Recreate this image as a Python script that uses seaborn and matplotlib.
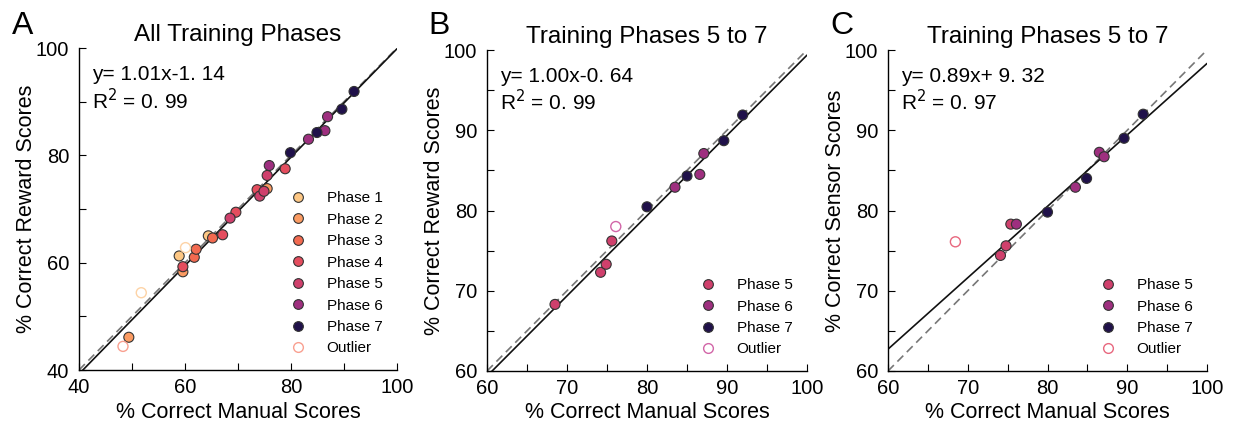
import matplotlib
matplotlib.use("Agg")
import matplotlib.pyplot as plt
import seaborn as sns
import pandas as pd
import numpy as np
from matplotlib.lines import Line2D
from matplotlib.ticker import MultipleLocator

sns.set_theme(style="white")
plt.rcParams['font.family'] = ['Liberation Sans', 'DejaVu Sans']
plt.rcParams['text.color'] = 'black'
plt.rcParams['axes.labelcolor'] = 'black'
plt.rcParams['xtick.color'] = 'black'
plt.rcParams['ytick.color'] = 'black'

# ---------------- data ----------------
phase_names = ["Phase 1", "Phase 2", "Phase 3", "Phase 4", "Phase 5", "Phase 6", "Phase 7"]
phase_colors = ["#fdc784", "#fb9b62", "#f26a50", "#e44d5e", "#cf406c", "#9e2f7f", "#20114a"]

# Panel A: all training phases (manual vs reward)
a_phase = ["Phase 1"] * 2 + ["Phase 2"] * 3 + ["Phase 3"] * 3 + ["Phase 4"] * 5 + ["Phase 5"] * 4 + ["Phase 6"] * 4 + ["Phase 7"] * 4
a_manual = [58.9, 64.4,
            49.4, 59.6, 75.5,
            61.75, 62.1, 65.2,
            59.6, 67.1, 69.6, 73.6, 78.9,
            68.5, 74.1, 74.9, 75.5,
            75.9, 83.3, 86.4, 86.9,
            79.9, 84.9, 89.6, 91.9]
a_reward = [61.25, 65.0,
            46.1, 58.3, 73.8,
            61.0, 62.5, 64.6,
            59.25, 65.2, 69.4, 73.6, 77.5,
            68.3, 72.4, 73.3, 76.25,
            78.1, 83.0, 84.6, 87.2,
            80.5, 84.25, 88.6, 91.9]
a_out_manual = [51.75, 48.3, 60.1]
a_out_reward = [54.4, 44.4, 62.8]
a_out_colors = ["#fdd3a6", "#f9a090", "#fdd3a6"]

# Panel B: phases 5 to 7 (manual vs reward)
b_phase = ["Phase 5"] * 4 + ["Phase 6"] * 3 + ["Phase 7"] * 4
b_manual = [68.5, 74.2, 74.9, 75.6, 83.5, 86.6, 87.1, 80.0, 85.0, 89.6, 91.96]
b_reward = [68.3, 72.3, 73.3, 76.2, 82.9, 84.5, 87.1, 80.46, 84.3, 88.7, 91.9]
b_out_manual = [76.1]
b_out_reward = [78.0]
b_out_colors = ["#d266a8"]

# Panel C: phases 5 to 7 (manual vs sensor)
c_phase = ["Phase 5"] * 3 + ["Phase 6"] * 4 + ["Phase 7"] * 4
c_manual = [74.1, 74.8, 75.4, 76.1, 83.5, 86.5, 87.1, 80.0, 84.9, 89.6, 92.0]
c_sensor = [74.4, 75.6, 78.3, 78.3, 82.9, 87.25, 86.7, 79.8, 84.0, 89.0, 92.0]
c_out_manual = [68.45]
c_out_sensor = [76.1]
c_out_colors = ["#e8687f"]

fit_slopes = [1.01, 1.00, 0.89]
fit_intercepts = [-1.14, -0.64, 9.32]
eq_texts = ["y= 1.01x-1. 14", "y= 1.00x-0. 64", "y= 0.89x+ 9. 32"]
r2_texts = ["R$^2$ = 0. 99", "R$^2$ = 0. 99", "R$^2$ = 0. 97"]

titles = ["All Training Phases", "Training Phases 5 to 7", "Training Phases 5 to 7"]
letters = ["A", "B", "C"]
ylabels = ["% Correct Reward Scores", "% Correct Reward Scores", "% Correct Sensor Scores"]
xlabel = "% Correct Manual Scores"

# ---------------- figure ----------------
fig = plt.figure(figsize=(12.42, 4.24), dpi=100)
W, H = 1242, 424
rects = [(79, 48, 397, 370), (487, 50, 807, 371), (888, 50, 1207, 371)]
letter_x = [12, 428, 830]
axes = []
for (l, t, r, b) in rects:
    axes.append(fig.add_axes([l / W, (H - b) / H, (r - l) / W, (b - t) / H]))

panels = [
    (a_phase, a_manual, a_reward, a_out_manual, a_out_reward, a_out_colors, (40, 100), 20, 10, phase_names),
    (b_phase, b_manual, b_reward, b_out_manual, b_out_reward, b_out_colors, (60, 100), 10, 5, phase_names[4:]),
    (c_phase, c_manual, c_sensor, c_out_manual, c_out_sensor, c_out_colors, (60, 100), 10, 5, phase_names[4:]),
]
pal = dict(zip(phase_names, phase_colors))

for i, ax in enumerate(axes):
    ph, xs, ys, oxs, oys, ocs, lims, major, minor, legend_phases = panels[i]
    df = pd.DataFrame({"manual": xs, "score": ys, "phase": ph})
    lo, hi = lims
    ax.set_xlim(lo, hi)
    ax.set_ylim(lo, hi)

    xx = np.array([lo, hi])
    ax.plot(xx, xx, ls=(0, (5, 3)), color="#777777", lw=1.2, zorder=1)
    ax.plot(xx, fit_slopes[i] * xx + fit_intercepts[i], color="#111111", lw=1.2, zorder=2)

    sns.scatterplot(data=df, x="manual", y="score", hue="phase", palette=pal,
                    s=52, edgecolor="#333333", linewidth=0.8, legend=False, ax=ax, zorder=3)
    odf = pd.DataFrame({"manual": oxs, "score": oys})
    sns.scatterplot(data=odf, x="manual", y="score", s=52, legend=False, ax=ax, zorder=3)
    coll = ax.collections[-1]
    coll.set_facecolor("none")
    coll.set_edgecolor(ocs)
    coll.set_linewidth(1.0)

    for s in ["top", "right"]:
        ax.spines[s].set_visible(False)
    for s in ["left", "bottom"]:
        ax.spines[s].set_color("black")
        ax.spines[s].set_linewidth(1.0)
    ax.xaxis.set_major_locator(MultipleLocator(major))
    ax.yaxis.set_major_locator(MultipleLocator(major))
    ax.xaxis.set_minor_locator(MultipleLocator(minor))
    ax.yaxis.set_minor_locator(MultipleLocator(minor))
    ax.tick_params(which="both", direction="in", length=5, width=0.8, color="black",
                   bottom=True, left=True, top=False, right=False)
    ax.tick_params(which="major", labelsize=14.5)
    ax.tick_params(axis="x", which="major", pad=6)
    ax.tick_params(axis="y", which="major", pad=7)
    ax.set_xlabel(xlabel, fontsize=15.5, labelpad=3)
    ax.set_ylabel(ylabels[i], fontsize=15.5, labelpad=-1)
    ax.set_title(titles[i], fontsize=17.5, pad=5)

    ax.text(0.04, 0.919, eq_texts[i], transform=ax.transAxes, fontsize=15, va="center", ha="left")
    ax.text(0.04, 0.838, r2_texts[i], transform=ax.transAxes, fontsize=15, va="center", ha="left")

    handles = [Line2D([], [], ls="none", marker="o", markersize=7, markerfacecolor=pal[p],
                      markeredgecolor="#333333", markeredgewidth=0.8) for p in legend_phases]
    handles.append(Line2D([], [], ls="none", marker="o", markersize=7, markerfacecolor="none",
                          markeredgecolor=ocs[-1] if i > 0 else "#f9a090", markeredgewidth=1.0))
    ax.legend(handles, legend_phases + ["Outlier"], loc="lower right", frameon=False,
              fontsize=11, handletextpad=1.25, labelspacing=0.49, borderaxespad=0.55,
              handlelength=1.2)

for i in range(3):
    fig.text(letter_x[i] / W, 1 - 11 / H, letters[i], fontsize=23, va="top", ha="left")

fig.savefig("out.png", dpi=100)
